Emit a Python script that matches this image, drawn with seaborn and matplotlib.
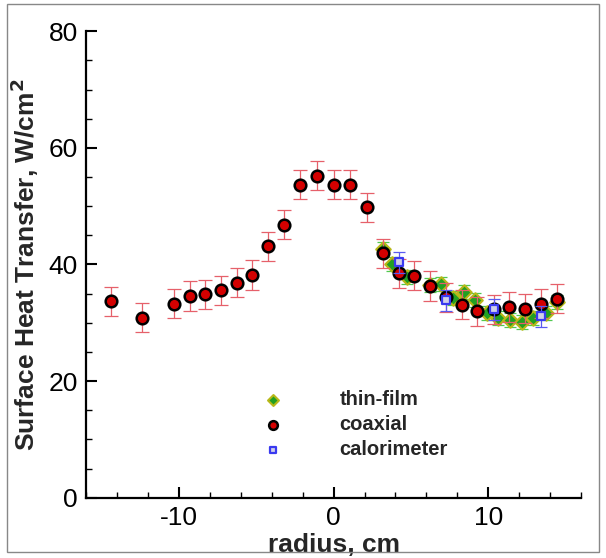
import numpy as np
import seaborn as sns
import matplotlib.pyplot as plt
from matplotlib.patches import Rectangle
from matplotlib.ticker import MultipleLocator

# thin-film gauges
thin_x = [3.2, 3.8, 4.75, 6.2, 6.95, 7.7, 8.45, 9.15, 9.9, 10.65, 11.4, 12.2, 12.9, 13.7, 14.45]
thin_y = [42.7, 40.0, 37.9, 36.4, 36.7, 34.3, 35.3, 33.9, 31.6, 30.9, 30.4, 30.2, 30.9, 31.6, 33.6]
thin_err = 1.2

# coaxial gauges
coax_x = [-14.4, -12.4, -10.3, -9.3, -8.3, -7.3, -6.25, -5.25, -4.25, -3.2, -2.15, -1.1, 0.0,
          1.05, 2.15, 3.2, 4.2, 5.2, 6.25, 7.25, 8.3, 9.3, 10.35, 11.35, 12.4, 13.4, 14.45]
coax_y = [33.7, 30.9, 33.3, 34.6, 34.9, 35.6, 36.9, 38.2, 43.1, 46.8, 53.7, 55.2, 53.7,
          53.7, 49.8, 41.9, 38.5, 38.1, 36.3, 34.4, 33.1, 32.0, 32.3, 32.7, 32.4, 33.3, 34.1]
coax_err = 2.5

# calorimeters
cal_x = [4.2, 7.25, 10.35, 13.4]
cal_y = [40.4, 33.9, 32.3, 31.1]
cal_err = 1.8

sns.set_style("ticks")
plt.rcParams['font.family'] = ['Liberation Sans', 'DejaVu Sans']
plt.rcParams['axes.unicode_minus'] = False

fig = plt.figure(figsize=(6.06, 5.58), dpi=100)
ax = fig.add_axes([0.142, 0.108, 0.817, 0.836])

# error bars under each marker set
ax.errorbar(thin_x, thin_y, yerr=thin_err, fmt='none', ecolor='#50c850', elinewidth=0.9,
            capsize=4.5, capthick=0.9, zorder=1)
sns.scatterplot(x=thin_x, y=thin_y, marker='D', s=55, color='#22a022', edgecolor='#b8b818',
                linewidth=1.5, ax=ax, zorder=2, label='thin-film')
ax.errorbar(coax_x, coax_y, yerr=coax_err, fmt='none', ecolor='#e6606a', elinewidth=0.9,
            capsize=5, capthick=0.9, zorder=3)
sns.scatterplot(x=coax_x, y=coax_y, marker='o', s=70, color='#d40000', edgecolor='black',
                linewidth=1.8, ax=ax, zorder=4, label='coaxial')
ax.errorbar(cal_x, cal_y, yerr=cal_err, fmt='none', ecolor='#5a5af0', elinewidth=0.9,
            capsize=4.5, capthick=0.9, zorder=5)
sns.scatterplot(x=cal_x, y=cal_y, marker='s', s=38, color='#d0d0e8', edgecolor='#3a3af0',
                linewidth=1.6, ax=ax, zorder=6, label='calorimeter')

ax.set_xlim(-16, 16)
ax.set_ylim(0, 80)
ax.xaxis.set_major_locator(MultipleLocator(10))
ax.xaxis.set_minor_locator(MultipleLocator(2))
ax.yaxis.set_major_locator(MultipleLocator(20))
ax.yaxis.set_minor_locator(MultipleLocator(5))
ax.tick_params(which='major', direction='in', length=8, width=1.5, labelsize=19, pad=6,
               colors='black')
ax.tick_params(which='minor', direction='in', length=4.5, width=1.0, colors='black')
sns.despine(ax=ax)
for sp in ['left', 'bottom']:
    ax.spines[sp].set_linewidth(1.6)
    ax.spines[sp].set_color('black')

ax.set_xlabel('radius, cm', fontsize=19, fontweight='bold', labelpad=2)
ax.set_ylabel('Surface Heat Transfer, W/cm$^\\mathbf{2}$', fontsize=19, fontweight='bold',
              labelpad=5)

leg = ax.legend(loc='upper left', bbox_to_anchor=(0.337, 0.231), frameon=False,
                borderaxespad=0, borderpad=0, handletextpad=2.3, labelspacing=0.3,
                markerscale=0.75, prop={'size': 14.5, 'weight': 'bold'})

fig.patches.append(Rectangle((7 / 606, 6 / 558), 592 / 606, 548 / 558, transform=fig.transFigure,
                             fill=False, edgecolor='#888888', linewidth=1.0))

plt.savefig('out.png', dpi=100)
